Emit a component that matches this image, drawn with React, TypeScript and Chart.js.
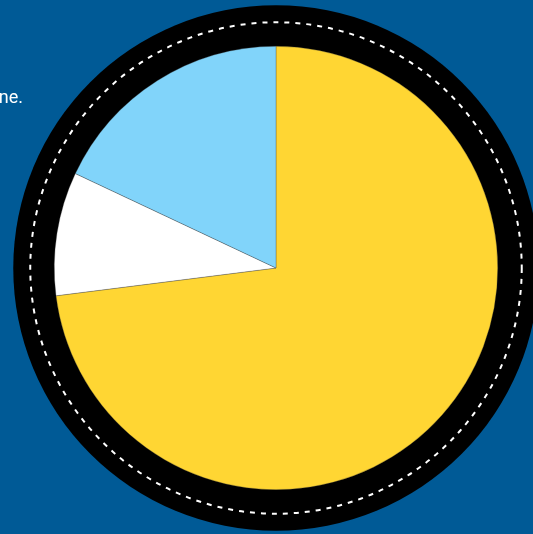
import React, { useEffect, useRef } from "react";
import { Chart, registerables } from "chart.js";

Chart.register(...registerables);

const categories = ["Yellow", "White", "Blue"];
const values = [73, 9, 18];
const colors = ["#FFD633", "#FFFFFF", "#81D4FA"];

const ringPlugin = {
  id: "ring",
  beforeDatasetsDraw(chart: any) {
    const arc = chart.getDatasetMeta(0).data[0];
    if (!arc) return;
    const { x, y, outerRadius } = arc;
    const ctx = chart.ctx;
    ctx.save();
    ctx.beginPath();
    ctx.arc(x, y, outerRadius + 41, 0, Math.PI * 2);
    ctx.fillStyle = "#000000";
    ctx.fill();
    ctx.beginPath();
    ctx.arc(x, y, outerRadius + 24, 0, Math.PI * 2);
    ctx.strokeStyle = "#FFFFFF";
    ctx.lineWidth = 2;
    ctx.setLineDash([5, 6]);
    ctx.stroke();
    ctx.restore();
  },
};

export default function App() {
  const ref = useRef<HTMLCanvasElement>(null);
  useEffect(() => {
    document.body.style.margin = "0";
    document.body.style.background = "rgb(0,90,150)";
    const chart = new Chart(ref.current!, {
      type: "pie",
      data: {
        labels: categories,
        datasets: [
          {
            data: values,
            backgroundColor: colors,
            borderColor: "rgba(60,60,60,0.6)",
            borderWidth: 0.5,
          },
        ],
      },
      options: {
        animation: false,
        responsive: false,
        layout: { padding: { left: 54, right: 35, top: 46, bottom: 44 } },
        plugins: { legend: { display: false }, tooltip: { enabled: false } },
      },
      plugins: [ringPlugin],
    });
    return () => chart.destroy();
  }, []);
  return (
    <div style={{ position: "relative", width: 533, height: 534, overflow: "hidden", background: "rgb(0,90,150)" }}>
      <canvas ref={ref} width={533} height={534} style={{ position: "absolute", left: 0, top: 0 }} />
      <div
        style={{
          position: "absolute",
          right: 510,
          top: 86,
          color: "#FFFFFF",
          fontFamily: "Roboto, sans-serif",
          fontSize: 18,
          whiteSpace: "nowrap",
        }}
      >
        All in one.
      </div>
    </div>
  );
}
